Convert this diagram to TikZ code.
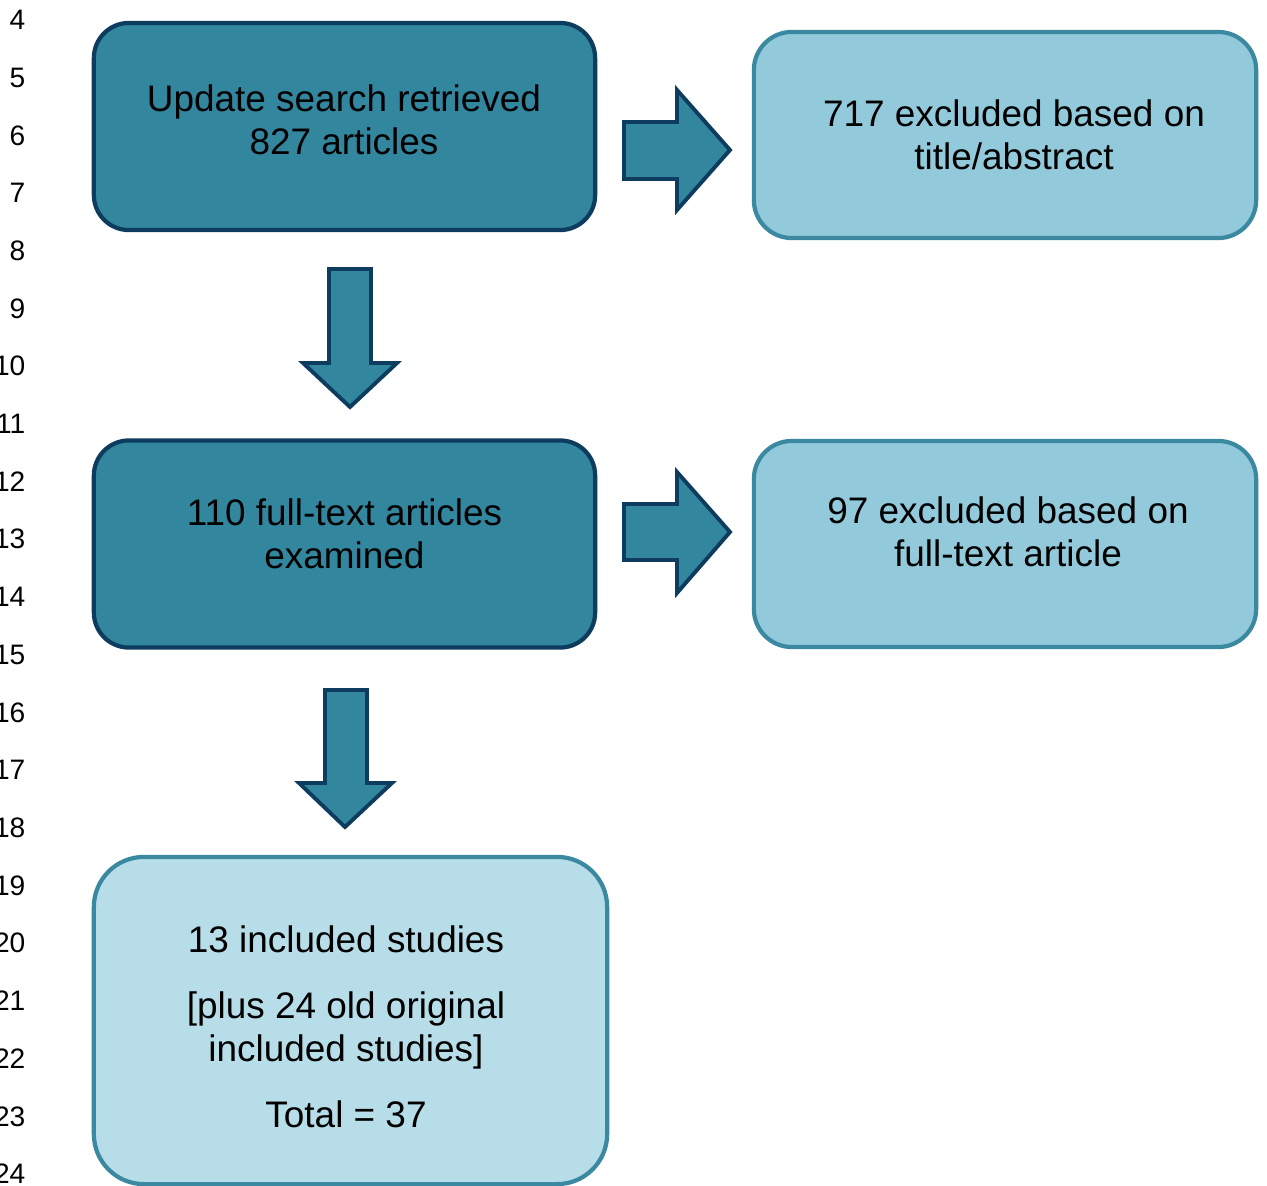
\documentclass[tikz,border=0pt]{standalone}
\usepackage{fontspec}
\setmainfont{Liberation Sans}
\usetikzlibrary{positioning}

\definecolor{tealdark}{HTML}{32869E}
\definecolor{navyline}{HTML}{0D3C5E}
\definecolor{teallight}{HTML}{93CADB}
\definecolor{tealpale}{HTML}{B7DDE8}
\definecolor{tealline}{HTML}{3A89A0}

\tikzset{
  darkbox/.style={rectangle, rounded corners=0.35cm, draw=navyline, fill=tealdark, line width=1.2pt,
    minimum width=5.01cm, minimum height=2.07cm},
  lightbox/.style={rectangle, rounded corners=0.38cm, draw=tealline, fill=teallight, line width=1.2pt,
    minimum width=5.02cm, minimum height=2.06cm},
  palebox/.style={lightbox, fill=tealpale, rounded corners=0.5cm, minimum width=5.13cm, minimum height=3.27cm},
  boxtext/.style={align=center, inner sep=0pt, font=\fontsize{10.5}{12.2}\selectfont},
  blockarrow/.style={draw=navyline, fill=tealdark, line width=1.1pt},
  linenum/.style={anchor=east, inner sep=0pt, font=\fontsize{8}{9}\selectfont}
}

\begin{document}
\begin{tikzpicture}[x=0.01cm,y=-0.01cm]
    \useasboundingbox (0,0) rectangle (1267,1185);

%    line numbers of the page
    \foreach \n [count=\i from 0] in {4,...,24}
        \node[linenum] (ln\n) at (26,{20+57.7*\i}) {\n};

    \node[darkbox] (search) at (344.5,126.5) {};
    \node[lightbox] (titleabs) at (1005,135) {};
    \node[darkbox] (fulltext) at (344.5,544) {};
    \node[lightbox] (fullexcl) at (1005,544) {};
    \node[palebox] (included) at (350.5,1020.5) {};

    \node[boxtext] (search-t) at (344,120) {Update search retrieved\\827 articles};
    \node[boxtext] (titleabs-t) at (1014,134.5) {717 excluded based on\\title/abstract};
    \node[boxtext] (fulltext-t) at (344.5,534) {110 full-text articles\\examined};
    \node[boxtext] (fullexcl-t) at (1008,532) {97 excluded based on\\full-text article};
    \node[boxtext] (included-t) at (346,1027) {13 included studies\\[6.5pt]
        [plus 24 old original\\included studies]\\[6.5pt]Total = 37};

%    block arrows
    \draw[blockarrow] (624,122) -- (677,122) -- (677,90) -- (730,150) -- (677,210) -- (677,179) -- (624,179) -- cycle;
    \draw[blockarrow] (624,504) -- (677,504) -- (677,472) -- (730,532) -- (677,593) -- (677,560) -- (624,560) -- cycle;
    \draw[blockarrow] (329,269) -- (371,269) -- (371,363) -- (397,363) -- (350,407) -- (303,363) -- (329,363) -- cycle;
    \draw[blockarrow] (325,690) -- (367,690) -- (367,783) -- (392,783) -- (345,827) -- (299,783) -- (325,783) -- cycle;

\end{tikzpicture}
\end{document}
